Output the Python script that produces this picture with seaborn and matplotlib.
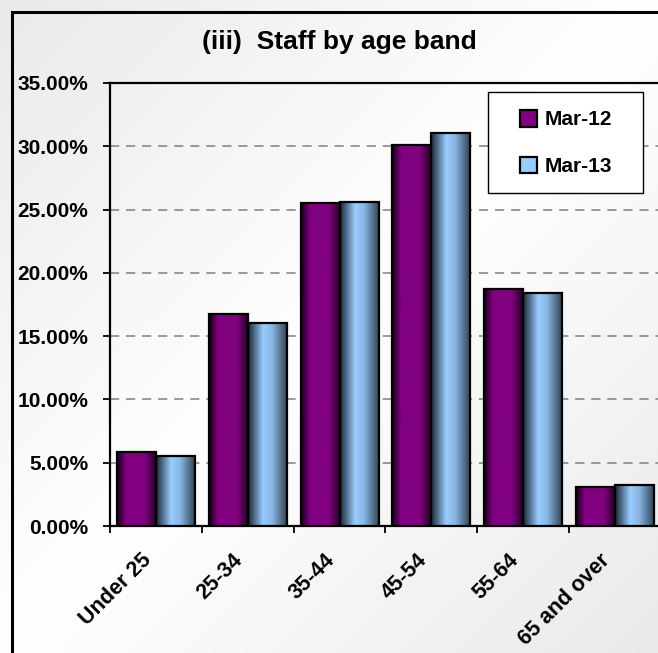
import numpy as np
import pandas as pd
import matplotlib
matplotlib.use("Agg")
import matplotlib.pyplot as plt
from matplotlib.colors import LinearSegmentedColormap
from matplotlib.patches import Rectangle, Patch
from matplotlib.ticker import FixedLocator, FuncFormatter
from matplotlib.transforms import ScaledTranslation
import seaborn as sns

# Share of staff in each age band (percent)
bands = ["Under 25", "25-34", "35-44", "45-54", "55-64", "65 and over"]
mar12 = [5.82, 16.74, 25.48, 30.08, 18.71, 3.06]
mar13 = [5.53, 16.03, 25.58, 31.05, 18.40, 3.24]
periods = ["Mar-12", "Mar-13"]
y_ticks = [0, 5, 10, 15, 20, 25, 30, 35]

PURPLE = "#800080"
BLUE = "#99CCFF"

df = pd.DataFrame({
    "band": bands * 2,
    "pct": mar12 + mar13,
    "period": [periods[0]] * len(bands) + [periods[1]] * len(bands),
})

sns.set_theme(style="white")
plt.rcParams["font.family"] = ["Liberation Sans", "DejaVu Sans"]
plt.rcParams["font.weight"] = "bold"
plt.rcParams["text.color"] = "black"
plt.rcParams["xtick.color"] = "black"
plt.rcParams["ytick.color"] = "black"
plt.rcParams["xtick.labelcolor"] = "black"
plt.rcParams["ytick.labelcolor"] = "black"

W, H = 658, 653
fig = plt.figure(figsize=(W / 100, H / 100), dpi=100)

def fx(px):
    return px / W

def fy(py):
    return 1 - py / H

# diagonal grey-white-grey background
bg = fig.add_axes([0, 0, 1, 1], zorder=-10)
gx, gy = np.meshgrid(np.linspace(0, 1, 300), np.linspace(0, 1, 300))
shade = 1 - 0.085 * np.abs(gx + gy - 1)
bg.imshow(np.dstack([shade, shade, shade]), extent=(0, 1, 0, 1), aspect="auto",
          origin="upper", interpolation="bilinear")
bg.set_axis_off()

# outer chart frame (continues past the right and bottom edges)
fig.add_artist(Rectangle((fx(12), fy(700)), fx(700), 688 / H, transform=fig.transFigure,
                         fill=False, ec="black", lw=2.2))

ax_left, ax_right, ax_top, ax_bot = 110, 661, 83, 526
ax = fig.add_axes([fx(ax_left), fy(ax_bot), fx(ax_right - ax_left), (ax_bot - ax_top) / H])
ax.patch.set_alpha(0)

sns.barplot(data=df, x="band", y="pct", hue="period", palette=[PURPLE, BLUE],
            width=0.85, edgecolor="black", linewidth=1.6, saturation=1,
            ax=ax, legend=False, zorder=3)

xlim = (-0.5, len(bands) - 0.5)
ylim = (0, 35)

# cylinder-like shading across each bar
cmaps = [
    LinearSegmentedColormap.from_list("p", [(0, "#140014"), (0.22, PURPLE), (0.7, PURPLE), (1, "#200020")]),
    LinearSegmentedColormap.from_list("b", [(0, "#1c2a38"), (0.38, BLUE), (0.6, "#8ab8e6"), (1, "#2e4050")]),
]
grad = np.linspace(0, 1, 64).reshape(1, -1)
for cont, cmap in zip(ax.containers, cmaps):
    for bar in cont:
        x0, y0 = bar.get_x(), bar.get_y()
        w, h = bar.get_width(), bar.get_height()
        im = ax.imshow(grad, cmap=cmap, extent=(x0, x0 + w, y0, y0 + h), aspect="auto",
                       interpolation="bilinear", zorder=2.9)
        im.set_clip_path(bar)
        bar.set_facecolor("none")
        bar.set_zorder(3)

ax.set_xlim(*xlim)
ax.set_ylim(*ylim)

# dashed horizontal gridlines
ax.yaxis.set_major_locator(FixedLocator(y_ticks))
ax.yaxis.set_major_formatter(FuncFormatter(lambda v, p: f"{v:.2f}%"))
for v in y_ticks[1:-1]:
    ax.axhline(v, color="#7f7f7f", lw=1.1, ls=(0, (6, 4.5)), zorder=1)

# category labels near centres, tick marks at category boundaries
ax.set_xticks(range(len(bands)))
ax.set_xticklabels(bands, rotation=45, ha="right", va="center", rotation_mode="anchor",
                   fontsize=15.5, fontweight="bold", color="black")
ax.tick_params(axis="x", which="major", length=0, pad=22.5)
shift = ScaledTranslation(-8 / 100, 0, fig.dpi_scale_trans)
for lab in ax.get_xticklabels():
    lab.set_transform(lab.get_transform() + shift)
ax.set_xticks(np.arange(len(bands) + 1) - 0.5, minor=True)
ax.tick_params(axis="x", which="minor", bottom=True, length=5, width=1.3, color="black",
               direction="out")
ax.tick_params(axis="y", which="major", left=True, length=5, width=1.3, color="black",
               direction="out", pad=10.8, labelsize=15)
for lab in ax.get_yticklabels():
    lab.set_fontweight("bold")
    lab.set_color("black")
ax.set_xlabel("")
ax.set_ylabel("")

for side in ["left", "top", "bottom", "right"]:
    ax.spines[side].set_visible(True)
    ax.spines[side].set_color("black")
    ax.spines[side].set_linewidth(1.6)

# legend box
ax.add_patch(Rectangle((fx(488), fy(193)), fx(155), 101 / H, transform=fig.transFigure,
                       fc="white", ec="black", lw=1.0, zorder=4.9, clip_on=False))
handles = [Patch(facecolor=PURPLE, edgecolor="black", linewidth=1.6),
           Patch(facecolor=BLUE, edgecolor="black", linewidth=1.6)]
leg = ax.legend(handles, periods, loc="center", bbox_to_anchor=(fx(566), fy(143)),
                bbox_transform=fig.transFigure, frameon=False, fontsize=15,
                handlelength=0.85, handleheight=0.85, handletextpad=0.35, labelspacing=1.3)
leg.set_zorder(5)
for t in leg.get_texts():
    t.set_fontweight("bold")
    t.set_color("black")

fig.text(fx(339), fy(49), "(iii)  Staff by age band", ha="center", va="baseline",
         fontsize=19, fontweight="bold", color="black")

fig.savefig("out.png", dpi=100)
